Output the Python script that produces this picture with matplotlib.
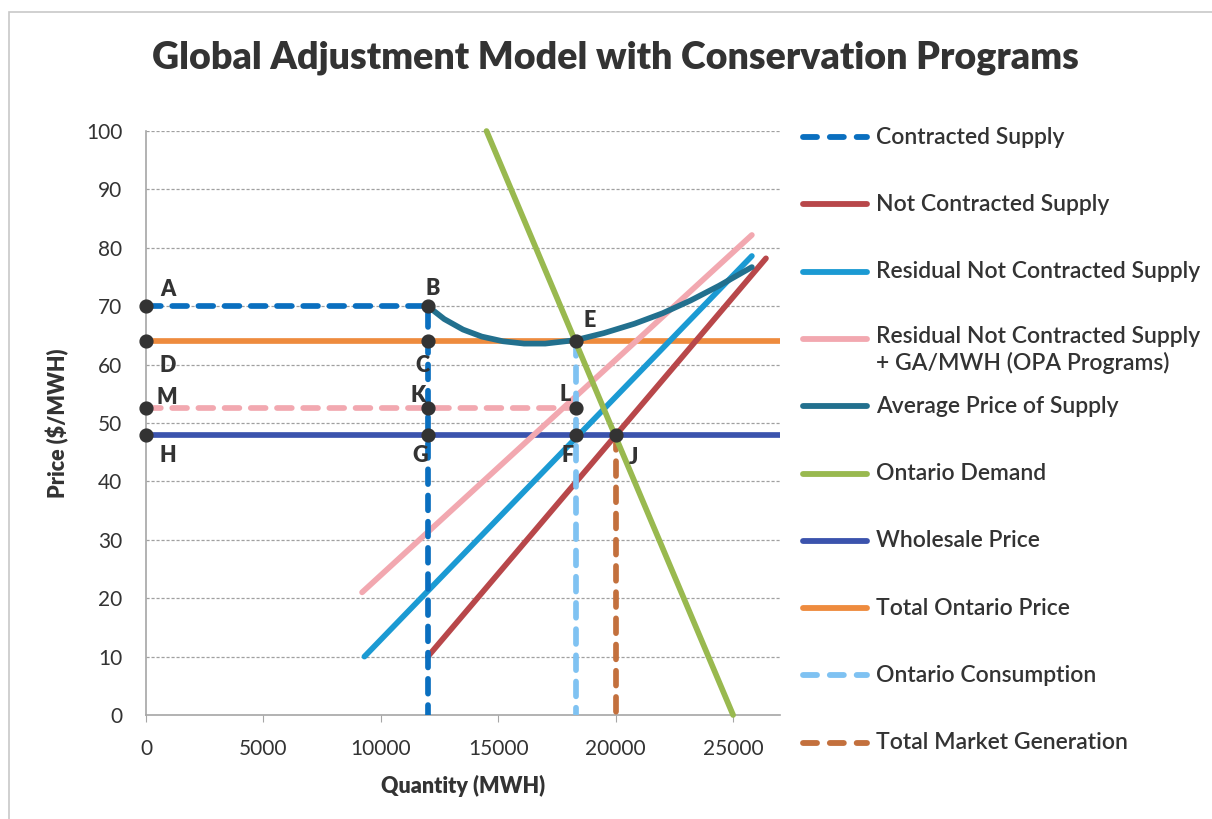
import matplotlib.pyplot as plt
from matplotlib.lines import Line2D
from matplotlib.patches import Rectangle

plt.rcParams["font.family"] = ["Lato", "DejaVu Sans"]
text_col = "#333333"

# Series (quantity in MWH, price in $/MWH)
contracted_x = [0, 12000, 12000]
contracted_y = [70, 70, 0]
not_contracted_x = [12000, 26400]
not_contracted_y = [10, 78.2]
residual_x = [9300, 25800]
residual_y = [10, 78.6]
residual_ga_x = [9200, 25800]
residual_ga_y = [21, 82.2]
avg_price_x = [12000, 12700, 13500, 14300, 15200, 16100, 17000, 18300, 19500, 20800, 22000, 23200, 24400, 25800]
avg_price_y = [70, 67.8, 66.0, 64.8, 64.0, 63.6, 63.6, 64.2, 65.4, 67.0, 68.8, 71.0, 73.5, 76.7]
demand_x = [14500, 25000]
demand_y = [100, 0]
wholesale_x = [0, 27000]
wholesale_y = [48, 48]
total_price_x = [0, 27000]
total_price_y = [64, 64]
ga_dash_x = [0, 18300]
ga_dash_y = [52.5, 52.5]
consumption_x = [18300, 18300]
consumption_y = [64, 0]
generation_x = [20000, 20000]
generation_y = [48, 0]

# Labelled points
pt_names = ["A", "B", "D", "C", "M", "K", "H", "G", "E", "L", "F", "J"]
pt_x = [0, 12000, 0, 12000, 0, 12000, 0, 12000, 18300, 18300, 18300, 20000]
pt_y = [70, 70, 64, 64, 52.5, 52.5, 48, 48, 64, 52.5, 48, 48]
# label centre offset from its point, in pixels
pt_offsets = {
    "A": (22, 17), "B": (5, 18), "D": (22, -24), "C": (-5, -24),
    "M": (21, 11), "K": (-10, 13), "H": (22, -21), "G": (-8, -21),
    "E": (14, 21), "L": (-11, 14), "F": (-8, -21), "J": (18, -23),
}

c_contracted = "#0a6fbf"
c_not_contracted = "#b8474a"
c_residual = "#1b9ad3"
c_residual_ga = "#f2a8b0"
c_avg = "#22708e"
c_demand = "#99b94f"
c_wholesale = "#3b53ad"
c_total = "#ee8b3e"
c_consumption = "#7fc2f2"
c_generation = "#c3703d"

fig = plt.figure(figsize=(12.12, 8.19), dpi=100)
ax = fig.add_axes([0.1205, 0.127, 0.5231, 0.713])

lw = 4.1
dash = (0, (2.6, 2.0))
solid = dict(lw=lw, solid_capstyle="round")
dashed = dict(lw=lw, ls=dash, dash_capstyle="round")
ax.plot(total_price_x, total_price_y, color=c_total, zorder=3, **solid)
ax.plot(wholesale_x, wholesale_y, color=c_wholesale, zorder=3, **solid)
ax.plot(ga_dash_x, ga_dash_y, color=c_residual_ga, zorder=3, **dashed)
ax.plot(residual_ga_x, residual_ga_y, color=c_residual_ga, zorder=3, **solid)
ax.plot(residual_x, residual_y, color=c_residual, zorder=4, **solid)
ax.plot(not_contracted_x, not_contracted_y, color=c_not_contracted, zorder=4, **solid)
ax.plot(avg_price_x, avg_price_y, color=c_avg, zorder=4, **solid)
ax.plot(demand_x, demand_y, color=c_demand, zorder=5, clip_on=False, **solid)
ax.plot(consumption_x, consumption_y, color=c_consumption, zorder=4, **dashed)
ax.plot(generation_x, generation_y, color=c_generation, zorder=4, **dashed)
ax.plot(contracted_x, contracted_y, color=c_contracted, zorder=5, **dashed)

ax.scatter(pt_x, pt_y, s=85, color="#333333", zorder=7, clip_on=False)
for name, x, y in zip(pt_names, pt_x, pt_y):
    dx, dy = pt_offsets[name]
    ax.annotate(name, (x, y), xytext=(dx * 0.72, dy * 0.72), textcoords="offset points",
                ha="center", va="center", fontsize=15.5, fontweight="heavy",
                color=text_col, zorder=8)

ax.set_xlim(0, 27000)
ax.set_ylim(0, 100)
ax.set_xticks(range(0, 25001, 5000))
ax.set_yticks(range(0, 101, 10))
for y in range(10, 101, 10):
    ax.axhline(y, color="#a0a0a0", lw=0.9, ls=(0, (2.5, 1.5)), zorder=1)
for side in ["top", "right"]:
    ax.spines[side].set_visible(False)
for side in ["left", "bottom"]:
    ax.spines[side].set_color("#a6a6a6")
    ax.spines[side].set_linewidth(1.2)
ax.tick_params(axis="x", length=5, color="#a6a6a6", labelsize=15, labelcolor=text_col, pad=12)
ax.tick_params(axis="y", length=0, labelsize=15, labelcolor=text_col, pad=17)
ax.set_xlabel("Quantity (MWH)", fontsize=15.5, fontweight="heavy", color=text_col, labelpad=12)
ax.set_ylabel("Price ($/MWH)", fontsize=15.5, fontweight="heavy", color=text_col, labelpad=12)

fig.text(0.508, 0.930, "Global Adjustment Model with Conservation Programs",
         ha="center", va="center", fontsize=27, fontweight="heavy", color=text_col)

# Legend drawn by hand so the two-line entry keeps the even spacing
legend_items = [
    ("Contracted Supply", c_contracted, True),
    ("Not Contracted Supply", c_not_contracted, False),
    ("Residual Not Contracted Supply", c_residual, False),
    ("Residual Not Contracted Supply\n+ GA/MWH (OPA Programs)", c_residual_ga, False),
    ("Average Price of Supply", c_avg, False),
    ("Ontario Demand", c_demand, False),
    ("Wholesale Price", c_wholesale, False),
    ("Total Ontario Price", c_total, False),
    ("Ontario Consumption", c_consumption, True),
    ("Total Market Generation", c_generation, True),
]
W, H = 1212, 819
for i, (label, col, is_dashed) in enumerate(legend_items):
    ypx = 137 + i * 67.3
    yf = 1 - ypx / H
    if is_dashed:
        fig.add_artist(Line2D([803 / W, 867 / W], [yf, yf], color=col, lw=4.2,
                              ls=(0, (2.4, 2.2)), dash_capstyle="round"))
    else:
        fig.add_artist(Line2D([803 / W, 867 / W], [yf, yf], color=col, lw=4.2,
                              solid_capstyle="round"))
    if "\n" in label:
        fig.text(876 / W, 1 - (ypx - 13) / H, label, ha="left", va="top",
                 fontsize=16.5, fontweight="semibold", color=text_col, linespacing=1.25)
    else:
        fig.text(876 / W, yf, label, ha="left", va="center",
                 fontsize=16.5, fontweight="semibold", color=text_col)

# thin chart-area border
fig.add_artist(Rectangle((9 / W, -0.01), 1.02, 1 - 12 / H + 0.01, transform=fig.transFigure,
                         fill=False, ec="#c8c8c8", lw=1.2))

fig.savefig("out.png", dpi=100, facecolor="white")
